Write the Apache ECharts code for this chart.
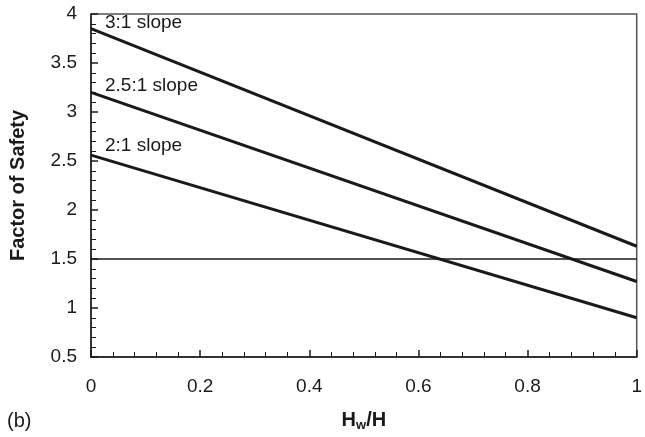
<!DOCTYPE html>
<html>
<head>
<meta charset="utf-8">
<script src="https://cdn.jsdelivr.net/npm/echarts@6/dist/echarts.min.js"></script>
<style>
  html, body { margin: 0; padding: 0; background: #fff; }
  #chart { width: 645px; height: 437px; }
</style>
</head>
<body>
<div id="chart"></div>
<script>
// Hw/H ratio at the ends of each line
const ratio = [0, 1];
const slope3to1 = [3.85, 1.63];
const slope25to1 = [3.2, 1.27];
const slope2to1 = [2.56, 0.9];
const targetFs = 1.5;
const seriesNames = ['3:1 slope', '2.5:1 slope', '2:1 slope'];

const FONT = '"Liberation Sans", Arial, sans-serif';
const INK = '#1a1a1a';

function pairs(ys) {
  return ratio.map((x, i) => [x, ys[i]]);
}

function slopeSeries(name, ys, dy) {
  const data = pairs(ys).map((p, i) => i === 0 ? {
    value: p,
    label: {
      show: true, formatter: name, position: 'right', offset: [9, dy],
      fontFamily: FONT, fontSize: 19, color: INK,
    },
  } : { value: p });
  return {
    name, type: 'line', data,
    symbol: 'circle', symbolSize: 0, showSymbol: true,
    lineStyle: { color: INK, width: 3 },
    itemStyle: { color: INK },
    silent: true, z: 5,
  };
}

const chart = echarts.init(document.getElementById('chart'));
chart.setOption({
  animation: false,
  backgroundColor: '#fff',
  grid: {
    left: 79, right: 3, top: 14, bottom: 78,
    show: true, borderColor: '#555', borderWidth: 1.5, backgroundColor: 'transparent',
  },
  xAxis: {
    type: 'value', min: 0, max: 1, interval: 0.2,
    name: '{a|H}{b|w}{a|/H}',
    nameLocation: 'middle', nameGap: 53,
    nameTextStyle: {
      rich: {
        a: { fontFamily: FONT, fontSize: 20, fontWeight: 'bold', color: INK, lineHeight: 22, verticalAlign: 'top' },
        b: { fontFamily: FONT, fontSize: 13, fontWeight: 'bold', color: INK, lineHeight: 22, verticalAlign: 'top', padding: [9, 0, 0, 0] },
      },
    },
    axisLine: { lineStyle: { color: INK, width: 1.5 } },
    axisTick: { inside: true, length: 7, lineStyle: { color: INK, width: 1.5 } },
    minorTick: { show: true, splitNumber: 5, length: 5, lineStyle: { color: INK, width: 1 } },
    splitLine: { show: false },
    axisLabel: {
      fontFamily: FONT, fontSize: 19, color: INK, margin: 20,
      formatter: v => String(+v.toFixed(1)),
    },
  },
  yAxis: {
    type: 'value', min: 0.5, max: 4, interval: 0.5,
    name: 'Factor of Safety',
    nameLocation: 'middle', nameGap: 63, nameRotate: 90,
    nameTextStyle: { fontFamily: FONT, fontSize: 20, fontWeight: 'bold', color: INK },
    axisLine: { show: true, lineStyle: { color: INK, width: 1.5 } },
    axisTick: { show: true, inside: true, length: 7, lineStyle: { color: INK, width: 1.5 } },
    minorTick: { show: true, splitNumber: 5, length: 5, lineStyle: { color: INK, width: 1 } },
    splitLine: { show: false },
    axisLabel: {
      fontFamily: FONT, fontSize: 19, color: INK, margin: 14,
      formatter: v => String(+v.toFixed(1)),
    },
  },
  graphic: [{
    type: 'text', left: 7, top: 411,
    style: { text: '(b)', fontFamily: FONT, fontSize: 20, fill: INK },
  }],
  series: [
    slopeSeries(seriesNames[0], slope3to1, -6),
    slopeSeries(seriesNames[1], slope25to1, -7),
    slopeSeries(seriesNames[2], slope2to1, -9),
    {
      name: 'FS 1.5', type: 'line',
      data: pairs(ratio.map(() => targetFs)),
      symbol: 'none',
      lineStyle: { color: INK, width: 1.5 },
      silent: true, z: 4,
    },
  ],
});
</script>
</body>
</html>
